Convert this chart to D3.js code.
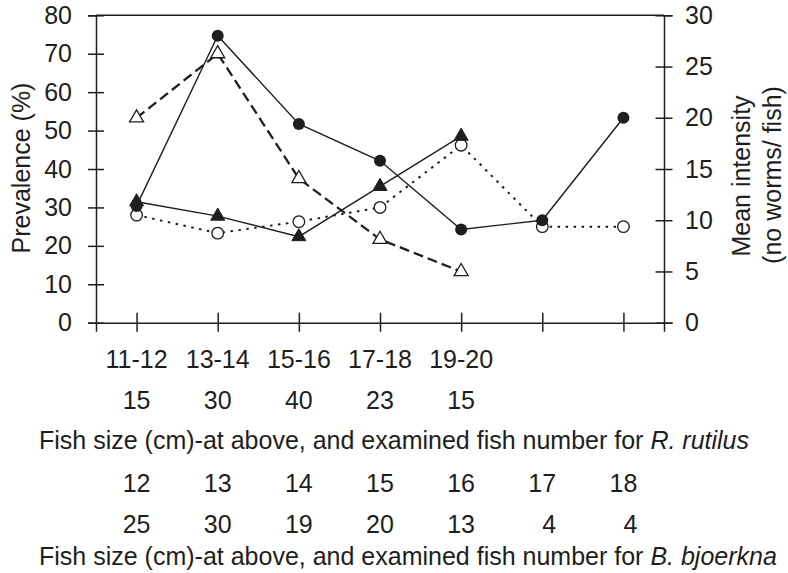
<!DOCTYPE html>
<html>
<head>
<meta charset="utf-8">
<script src="https://cdn.jsdelivr.net/npm/d3@7"></script>
<style>
    body { margin: 0; background: #fff; }
    svg text { font-family: Arial, "Liberation Sans", sans-serif; fill: #1e1e1e; }
</style>
</head>
<body>
<div id="chart"></div>
<script>
// fish size classes and sample sizes
const rutilusSizes = ["11-12", "13-14", "15-16", "17-18", "19-20"];
const rutilusN = [15, 30, 40, 23, 15];
const bjoerknaSizes = ["12", "13", "14", "15", "16", "17", "18"];
const bjoerknaN = [25, 30, 19, 20, 13, 4, 4];

// prevalence (%) - left axis
const rutilusPrev = [53.3, 70, 37.5, 21.7, 13.3];
const bjoerknaPrev = [28, 23.3, 26.3, 30, 46.2, 25, 25];
// mean intensity (worms/fish) - right axis
const rutilusInt = [11.8, 10.4, 8.4, 13.3, 18.2];
const bjoerknaInt = [11.4, 28.0, 19.4, 15.8, 9.1, 10.0, 20.0];

const prevTicks = [0, 10, 20, 30, 40, 50, 60, 70, 80];
const intTicks = [0, 5, 10, 15, 20, 25, 30];

const W = 788, H = 573;
const margin = {top: 15.3, right: 124, left: 96, bottom: 250.3};
const innerW = W - margin.left - margin.right;
const innerH = H - margin.top - margin.bottom;
const ink = "#1e1e1e";
const fs = 25;

const svg = d3.select("#chart").append("svg")
    .attr("width", W)
    .attr("height", H);

const g = svg.append("g")
    .attr("transform", `translate(${margin.left},${margin.top})`);

// scales
let x = d3.scalePoint()
    .domain(d3.range(bjoerknaSizes.length))
    .range([0, innerW])
    .padding(0.5);
let yL = d3.scaleLinear().domain([0, 80]).range([innerH, 0]);
let yR = d3.scaleLinear().domain([0, 30]).range([innerH, 0]);

// top border
g.append("line")
    .attr("x1", 0).attr("x2", innerW)
    .attr("y1", 0).attr("y2", 0)
    .attr("stroke", ink).attr("stroke-width", 1.5);

// left axis
let leftAxis = g.append("g")
    .call(d3.axisLeft(yL).tickValues(prevTicks).tickSize(8).tickPadding(16));
leftAxis.selectAll(".tick line").attr("x1", 8);
// right axis
let rightAxis = g.append("g")
    .attr("transform", `translate(${innerW},0)`)
    .call(d3.axisRight(yR).tickValues(intTicks).tickSize(8.5).tickPadding(12.5));
rightAxis.selectAll(".tick line").attr("x1", -8.5);
// bottom axis
let bottomAxis = g.append("g")
    .attr("transform", `translate(0,${innerH})`)
    .call(d3.axisBottom(x).tickSize(9).tickFormat(""));
bottomAxis.selectAll(".tick line").attr("y1", -10);

[leftAxis, rightAxis, bottomAxis].forEach(a => {
    a.select(".domain").attr("stroke", ink).attr("stroke-width", 1.5);
    a.selectAll(".tick line").attr("stroke", ink).attr("stroke-width", 1.5);
    a.selectAll("text").attr("font-size", fs).style("fill", ink);
});

// lines
let lineL = d3.line().x((d, i) => x(i)).y(d => yL(d));
let lineR = d3.line().x((d, i) => x(i)).y(d => yR(d));

g.append("path").datum(bjoerknaPrev)
    .attr("d", lineL).attr("fill", "none")
    .attr("stroke", ink).attr("stroke-width", 2)
    .attr("stroke-dasharray", "2.5,5.5");
g.append("path").datum(rutilusPrev)
    .attr("d", lineL).attr("fill", "none")
    .attr("stroke", ink).attr("stroke-width", 2.3)
    .attr("stroke-dasharray", "10,5");
g.append("path").datum(rutilusInt)
    .attr("d", lineR).attr("fill", "none")
    .attr("stroke", ink).attr("stroke-width", 1.4);
g.append("path").datum(bjoerknaInt)
    .attr("d", lineR).attr("fill", "none")
    .attr("stroke", ink).attr("stroke-width", 1.4);

// markers
let tri = d3.symbol().type(d3.symbolTriangle).size(85);

g.selectAll(".bj-prev").data(bjoerknaPrev).enter().append("circle")
    .attr("class", "bj-prev")
    .attr("cx", (d, i) => x(i)).attr("cy", d => yL(d)).attr("r", 5.8)
    .attr("fill", "#fff").attr("stroke", ink).attr("stroke-width", 1.3);
g.selectAll(".ru-prev").data(rutilusPrev).enter().append("path")
    .attr("class", "ru-prev")
    .attr("d", tri)
    .attr("transform", (d, i) => `translate(${x(i)},${yL(d)})`)
    .attr("fill", "#fff").attr("stroke", ink).attr("stroke-width", 1.3);
g.selectAll(".ru-int").data(rutilusInt).enter().append("path")
    .attr("class", "ru-int")
    .attr("d", tri)
    .attr("transform", (d, i) => `translate(${x(i)},${yR(d)})`)
    .attr("fill", ink).attr("stroke", ink).attr("stroke-width", 1);
g.selectAll(".bj-int").data(bjoerknaInt).enter().append("circle")
    .attr("class", "bj-int")
    .attr("cx", (d, i) => x(i)).attr("cy", d => yR(d)).attr("r", 6)
    .attr("fill", ink);

// axis titles
svg.append("text")
    .attr("transform", "translate(30,168) rotate(-90)")
    .attr("text-anchor", "middle").attr("font-size", fs)
    .text("Prevalence (%)");
svg.append("text")
    .attr("transform", "translate(750,176) rotate(-90)")
    .attr("text-anchor", "middle").attr("font-size", fs)
    .text("Mean intensity");
svg.append("text")
    .attr("transform", "translate(781,175) rotate(-90)")
    .attr("text-anchor", "middle").attr("font-size", fs)
    .text("(no worms/ fish)");

// rows of labels under the chart
function labelRow(values, baseline) {
    svg.append("g").selectAll("text").data(values).enter().append("text")
        .attr("x", (d, i) => margin.left + x(i) + 13.9)
        .attr("y", baseline)
        .attr("text-anchor", "end")
        .attr("font-size", fs)
        .text(d => d);
}
svg.append("g").selectAll("text").data(rutilusSizes).enter().append("text")
    .attr("x", (d, i) => margin.left + x(i))
    .attr("y", 368)
    .attr("text-anchor", "middle")
    .attr("font-size", fs)
    .text(d => d);
labelRow(rutilusN, 409);
labelRow(bjoerknaSizes, 492);
labelRow(bjoerknaN, 533);

let t1 = svg.append("text").attr("x", 39).attr("y", 449).attr("font-size", fs);
t1.append("tspan").text("Fish size (cm)-at above, and examined fish number for ");
t1.append("tspan").attr("font-style", "italic").text("R. rutilus");
let t2 = svg.append("text").attr("x", 39).attr("y", 565).attr("font-size", fs);
t2.append("tspan").text("Fish size (cm)-at above, and examined fish number for ");
t2.append("tspan").attr("font-style", "italic").text("B. bjoerkna");
</script>
</body>
</html>
